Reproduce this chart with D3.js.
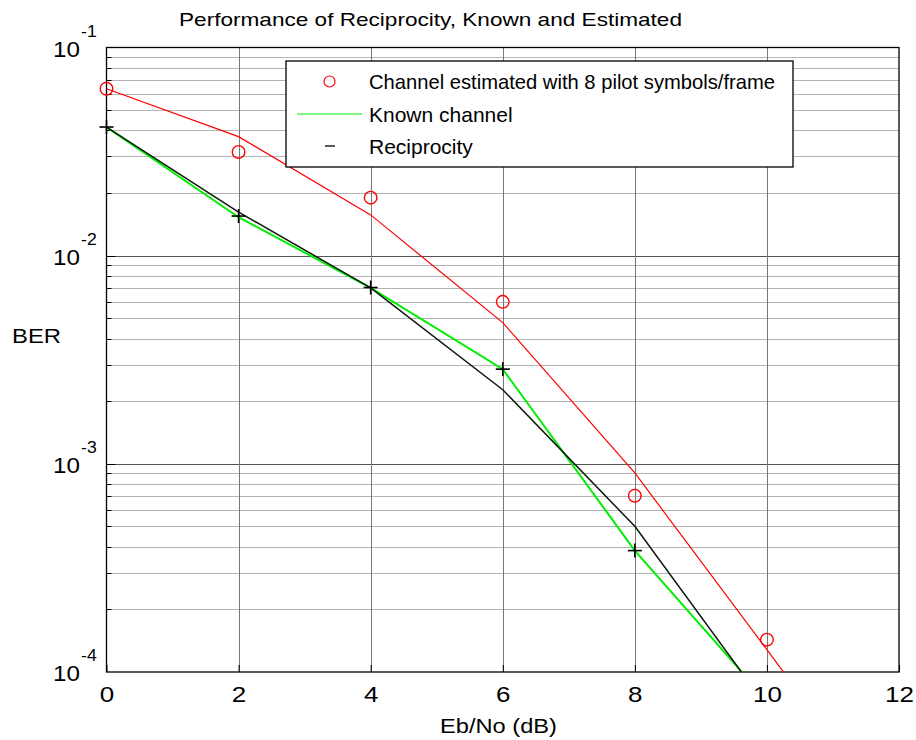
<!DOCTYPE html>
<html>
<head>
<meta charset="utf-8">
<style>
 body { margin: 0; background: #fff; }
 svg { font-family: "Liberation Sans", Arial, sans-serif; background: #fff; }
</style>
</head>
<body>
<svg width="916" height="740"></svg>
<script src="https://cdn.jsdelivr.net/npm/d3@7"></script>
<script>
// data
var ebno        = [0, 2, 4, 6, 8, 10, 12];
var estLine     = [0.0634, 0.0373, 0.0157, 0.00477, 0.000904, 0.000128, 0.000018];
var estMarkX    = [0, 2, 4, 6, 8, 10];
var estMarks    = [0.0634, 0.0315, 0.0190, 0.0060, 0.000703, 0.000143];
var knownX      = [0, 2, 4, 6, 8, 10];
var knownBer    = [0.0415, 0.0153, 0.0070, 0.00285, 0.000383, 0.000073];
var recipX      = [0, 2, 4, 6, 8, 10];
var recipBer    = [0.0415, 0.0162, 0.0070, 0.00227, 0.000501, 0.000068];
var plusX       = [0, 2, 4, 6, 8];
var plusBer     = [0.0415, 0.0155, 0.00703, 0.00285, 0.000383];
var xTicks      = [0, 2, 4, 6, 8, 10, 12];
var yDecades    = [-1, -2, -3, -4];
var legendNames = ["Channel estimated with 8 pilot symbols/frame", "Known channel", "Reciprocity"];

var svg = d3.select("svg");
var pl = 106.5, pr = 899, pt = 47.5, pb = 672;

var x = d3.scaleLinear().domain([0, 12]).range([pl, pr]);
var y = d3.scaleLog().domain([1e-4, 1e-1]).range([pb, pt]);

function snap(v){ return Math.round(v) + 0.5; }

// grid
var minor = [];
[-4, -3, -2].forEach(function(e){
    for (var m = 2; m <= 9; m++) minor.push(m * Math.pow(10, e));
});
var grid = svg.append("g");
grid.selectAll(".minor").data(minor).enter().append("line")
    .attr("x1", pl).attr("x2", pr)
    .attr("y1", function(d){ return snap(y(d)); })
    .attr("y2", function(d){ return snap(y(d)); })
    .attr("stroke", "#b4b4b4").attr("stroke-width", 1.2);
grid.selectAll(".major").data([1e-3, 1e-2]).enter().append("line")
    .attr("x1", pl).attr("x2", pr)
    .attr("y1", function(d){ return snap(y(d)); })
    .attr("y2", function(d){ return snap(y(d)); })
    .attr("stroke", "#555").attr("stroke-width", 1);
grid.selectAll(".vert").data(xTicks.slice(1, -1)).enter().append("line")
    .attr("y1", pt).attr("y2", pb)
    .attr("x1", function(d){ return snap(x(d)); })
    .attr("x2", function(d){ return snap(x(d)); })
    .attr("stroke", "#777").attr("stroke-width", 1);

// x axis, ticks pointing inward
var xAxis = d3.axisBottom(x).tickValues(xTicks).tickSize(-7).tickFormat(d3.format("d")).tickPadding(14);
var xg = svg.append("g").attr("transform", "translate(0," + pb + ")").call(xAxis);
xg.select(".domain").remove();
xg.selectAll("line").attr("stroke", "#000");
xg.selectAll("text").attr("font-size", "22px").attr("fill", "#000")
    .attr("font-family", "Liberation Sans, Arial")
    .attr("transform", "scale(1.18,1)");

// left ticks
svg.append("g").selectAll("line").data(minor).enter().append("line")
    .attr("x1", pl).attr("x2", pl + 5)
    .attr("y1", function(d){ return snap(y(d)); })
    .attr("y2", function(d){ return snap(y(d)); })
    .attr("stroke", "#000");
svg.append("g").selectAll("line").data([1e-3, 1e-2]).enter().append("line")
    .attr("x1", pl).attr("x2", pl + 9)
    .attr("y1", function(d){ return snap(y(d)); })
    .attr("y2", function(d){ return snap(y(d)); })
    .attr("stroke", "#000");

// y tick labels 10^e
var yl = svg.append("g").selectAll("g").data(yDecades).enter().append("g")
    .attr("transform", function(d){ return "translate(80," + y(Math.pow(10, d)) + ")"; });
yl.append("text").attr("y", 9).attr("text-anchor", "end")
    .attr("font-size", "22px").attr("fill", "#000")
    .attr("transform", "scale(1.1,1)")
    .text("10");
yl.append("text").attr("x", 1).attr("y", -11)
    .attr("font-size", "16px").attr("fill", "#000")
    .attr("transform", "scale(1.1,1)")
    .text(function(d){ return String(d); });

// box
svg.append("rect").attr("x", pl).attr("y", pt)
    .attr("width", pr - pl).attr("height", pb - pt)
    .attr("fill", "none").attr("stroke", "#000").attr("stroke-width", 1.3);

// clip for data
svg.append("clipPath").attr("id", "plot").append("rect")
    .attr("x", pl).attr("y", pt).attr("width", pr - pl).attr("height", pb - pt);
var plot = svg.append("g").attr("clip-path", "url(#plot)");

var line = d3.line().x(function(d){ return x(d[0]); }).y(function(d){ return y(d[1]); });

plot.append("path").datum(d3.zip(ebno, estLine)).attr("d", line)
    .attr("fill", "none").attr("stroke", "#ff0000").attr("stroke-width", 1.2);
plot.append("path").datum(d3.zip(knownX, knownBer)).attr("d", line)
    .attr("fill", "none").attr("stroke", "#00ee00").attr("stroke-width", 2);
plot.append("path").datum(d3.zip(recipX, recipBer)).attr("d", line)
    .attr("fill", "none").attr("stroke", "#0a1a0a").attr("stroke-width", 1.5);

svg.append("g").selectAll("circle").data(d3.zip(estMarkX, estMarks)).enter().append("circle")
    .attr("cx", function(d){ return x(d[0]); }).attr("cy", function(d){ return y(d[1]); })
    .attr("r", 6.3).attr("fill", "none").attr("stroke", "#ff0000").attr("stroke-width", 1.4);

var plus = svg.append("g").selectAll("g").data(d3.zip(plusX, plusBer)).enter().append("g")
    .attr("transform", function(d){ return "translate(" + x(d[0]) + "," + y(d[1]) + ")"; });
plus.append("line").attr("x1", -7).attr("x2", 7).attr("stroke", "#000").attr("stroke-width", 1.6);
plus.append("line").attr("y1", -7).attr("y2", 7).attr("stroke", "#000").attr("stroke-width", 1.6);

// legend
var lg = svg.append("g");
lg.append("rect").attr("x", 286).attr("y", 61).attr("width", 507).attr("height", 106)
    .attr("fill", "#fff").attr("stroke", "#000").attr("stroke-width", 1.3);
var rows = [81.5, 114, 146];
lg.selectAll("text").data(legendNames).enter().append("text")
    .attr("x", 369).attr("y", function(d, i){ return rows[i] + 7.5; })
    .attr("font-size", "21px").attr("fill", "#000")
    .text(function(d){ return d; })
    .each(function(d, i){
        if (i === 0) d3.select(this).attr("textLength", 406).attr("lengthAdjust", "spacingAndGlyphs");
    });
lg.append("circle").attr("cx", 329.5).attr("cy", rows[0]).attr("r", 5.5)
    .attr("fill", "none").attr("stroke", "#ff0000").attr("stroke-width", 1.2);
lg.append("line").attr("x1", 297).attr("x2", 362).attr("y1", rows[1]).attr("y2", rows[1])
    .attr("stroke", "#00ee00").attr("stroke-width", 1.2);
lg.append("line").attr("x1", 325).attr("x2", 335).attr("y1", rows[2]).attr("y2", rows[2])
    .attr("stroke", "#000").attr("stroke-width", 1.3);

// titles
svg.append("text").attr("x", 179).attr("y", 26)
    .attr("font-size", "19px").attr("fill", "#000")
    .attr("textLength", 503).attr("lengthAdjust", "spacingAndGlyphs")
    .text("Performance of Reciprocity, Known and Estimated");
svg.append("text").attr("x", 440).attr("y", 733)
    .attr("font-size", "21px").attr("fill", "#000")
    .attr("textLength", 117).attr("lengthAdjust", "spacingAndGlyphs")
    .text("Eb/No (dB)");
svg.append("text").attr("x", 12).attr("y", 343)
    .attr("font-size", "21px").attr("fill", "#000")
    .attr("textLength", 49).attr("lengthAdjust", "spacingAndGlyphs")
    .text("BER");
</script>
</body>
</html>
